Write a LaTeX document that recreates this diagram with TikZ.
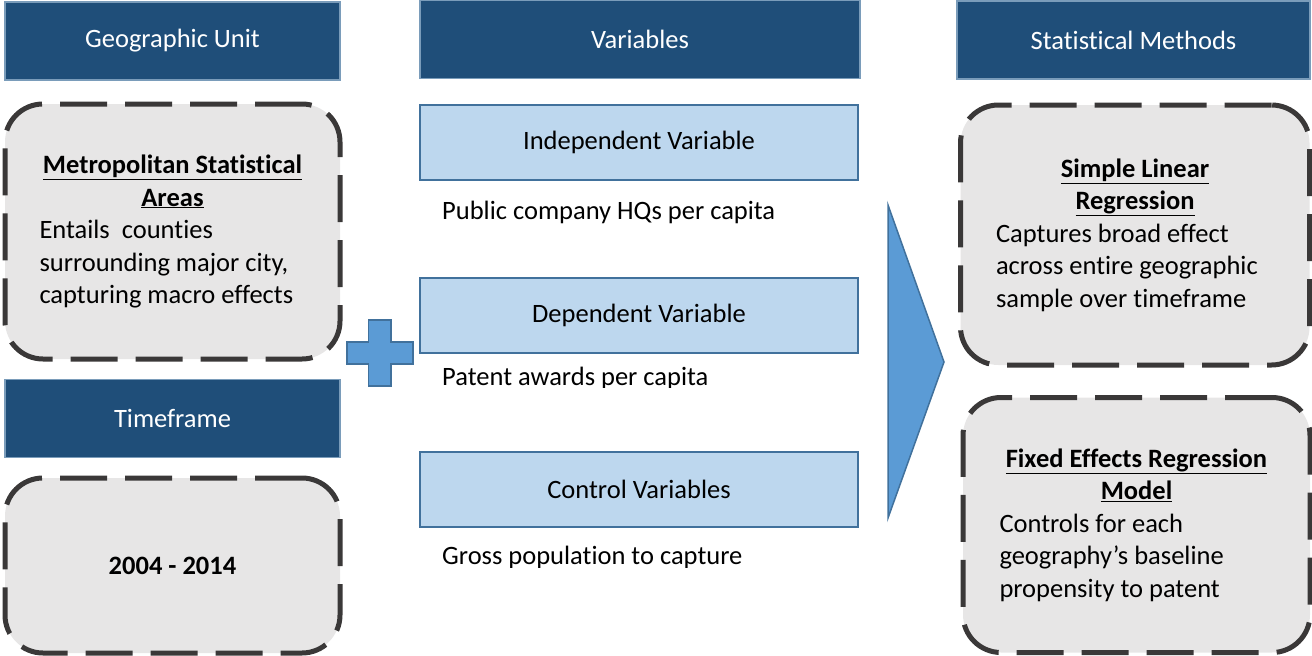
\documentclass[tikz,border=0pt]{standalone}
\usepackage{fontspec}
\setmainfont{Carlito}[Ligatures=NoCommon]
\usepackage{tikz}
\definecolor{hdblue}{HTML}{1F4E79}
\definecolor{hdedge}{HTML}{41719C}
\definecolor{varblue}{HTML}{BDD7EE}
\definecolor{signblue}{HTML}{5B9BD5}
\definecolor{cardgray}{HTML}{E7E6E6}
\definecolor{dashgray}{HTML}{3A3838}

\begin{document}
\begin{tikzpicture}[x=1pt,y=-1pt]
\tikzset{
  txt/.style={font=\fontsize{26.5}{32.5}\selectfont},
  head/.style={txt, draw=hdedge!70!white, line width=1.5pt, fill=hdblue,
    text=white, minimum height=78pt, inner sep=0pt},
  varbox/.style={txt, draw=hdedge, line width=2.5pt, fill=varblue,
    minimum width=438pt, minimum height=75pt, inner sep=0pt},
  card/.style={txt, draw=dashgray, fill=cardgray, line width=5pt,
    dash pattern=on 47pt off 18pt, rounded corners=38pt, inner sep=0pt, align=flush left},
  sign/.style={draw=hdedge, line width=1.5pt, fill=signblue, line join=miter},
  note/.style={txt, anchor=base west, inner sep=0pt}
}
\useasboundingbox (0,0) rectangle (1312,656);

% column headers
\node[head, minimum width=335pt] (hdgeo) at (172.5,41) {Geographic Unit};
\node[head, minimum width=440pt] (hdvar) at (640,39.5) {Variables};
\node[head, minimum width=353pt] (hdstat) at (1133.5,40) {Statistical Methods};
\node[head, minimum width=335pt] (hdtime) at (172.5,418.5) {Timeframe};

% left column
\node[card, minimum width=335pt, minimum height=255pt, text width=266pt] (msa) at (172.5,231.5)
  {{\centering\bfseries\underline{Metropolitan Statistical}\\\underline{Areas}\par}
   Entails\ \ counties\\surrounding major city,\\capturing macro effects};
\node[card, minimum width=335pt, minimum height=175pt] (years) at (172.5,565.5)
  {\bfseries 2004 - 2014};

% variables
\node[varbox] (indep) at (639,142.5) {Independent Variable};
\node[note] (hqs) at (442,219) {Public company HQs per capita};
\node[varbox] (dep) at (639,315.5) {Dependent Variable};
\begin{scope}
  \clip (420,300) rectangle (860,387);
  \node[note] (awards) at (442,385) {Patent awards per capita};
\end{scope}
\node[varbox] (ctrl) at (639,489.5) {Control Variables};
\begin{scope}
  \clip (420,530) rectangle (860,567);
  \node[note] (pop) at (442,564) {Gross population to capture};
\end{scope}

% methods
\node[card, minimum width=349pt, minimum height=260pt, text width=278pt] (slr) at (1135,235)
  {{\centering\bfseries\underline{Simple Linear}\\\underline{Regression}\par}
   Captures broad effect\\across entire geographic\\sample over timeframe};
\node[card, minimum width=347pt, minimum height=255pt, text width=274pt] (fem) at (1136.5,525)
  {{\centering\bfseries\underline{Fixed Effects Regression}\\\underline{Model}\par}
   Controls for each\\geography’s baseline\\propensity to patent};

% plus and arrow
\draw[sign] (368.5,320) -- (391,320) -- (391,342) -- (413,342) -- (413,364) -- (391,364)
  -- (391,386) -- (368.5,386) -- (368.5,364) -- (347,364) -- (347,342) -- (368.5,342) -- cycle;
\draw[sign] (888,205) -- (944,362) -- (888,518) -- cycle;
\end{tikzpicture}
\end{document}
